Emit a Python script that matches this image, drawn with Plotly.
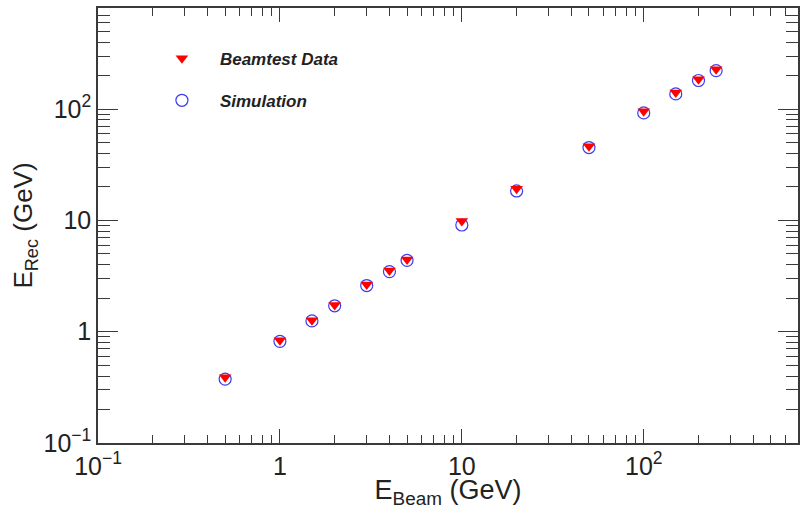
import plotly.graph_objects as go

e_beam = [0.5, 1, 1.5, 2, 3, 4, 5, 10, 20, 50, 100, 150, 200, 250]
e_rec_data = [0.39, 0.84, 1.27, 1.74, 2.65, 3.54, 4.45, 9.86, 19.3, 46.4, 96, 141, 186, 228]
e_rec_sim = [0.375, 0.82, 1.25, 1.71, 2.6, 3.47, 4.38, 9.1, 18.4, 45.2, 92.5, 137, 181, 222]

x_tickvals = [0.1, 1, 10, 100]
x_ticktext = ["10<sup>\u22121</sup>", "1", "10", "10<sup>2</sup>"]
y_tickvals = [0.1, 1, 10, 100]
y_ticktext = ["10<sup>\u22121</sup>", "1", "10", "10<sup>2</sup>"]

x_minor = [m * 10 ** k for k in (-1, 0, 1, 2) for m in range(2, 10)]
y_minor = [m * 10 ** k for k in (-1, 0, 1, 2) for m in range(2, 10)]

FONT = "Liberation Sans, Arial, sans-serif"
AX = "#3a3a3a"

fig = go.Figure()
fig.add_trace(go.Scatter(
    x=e_beam, y=e_rec_sim, mode="markers", name="<b><i>Simulation</i></b>",
    legendgroup="sim", legendrank=2,
    marker=dict(symbol="circle-open", size=12, color="#3b3bf0", line=dict(width=1.2, color="#3b3bf0")),
))
fig.add_trace(go.Scatter(
    x=e_beam, y=e_rec_data, mode="markers", name="<b><i>Beamtest Data</i></b>",
    legendgroup="data", legendrank=1,
    marker=dict(symbol="triangle-down", size=11, color="#ff0000", line=dict(width=0)),
))

fig.update_layout(
    width=806, height=509,
    margin=dict(l=98, r=6, t=8, b=66),
    paper_bgcolor="white", plot_bgcolor="white",
    font=dict(family=FONT, color="#222"),
    showlegend=True,
    legend=dict(
        x=0.0656, y=0.925, xanchor="left", yanchor="top",
        bgcolor="rgba(0,0,0,0)", borderwidth=0,
        font=dict(size=17, family=FONT, color="#222"),
        traceorder="grouped", tracegroupgap=17,
        itemwidth=66,
    ),
    xaxis=dict(
        type="log", range=[-1, 2.848],
        showgrid=False, zeroline=False,
        showline=True, linecolor=AX, linewidth=1.5, mirror="ticks",
        ticks="inside", ticklen=14, tickwidth=1.2, tickcolor=AX,
        tickmode="array", tickvals=x_tickvals, ticktext=x_ticktext,
        tickfont=dict(size=25, color="#222"),
        minor=dict(ticks="inside", ticklen=8, tickwidth=1, tickcolor=AX,
                   tickmode="array", tickvals=x_minor, showgrid=False),
        title=dict(text="E<sub>Beam</sub> (GeV)", font=dict(size=27, color="#222"), standoff=0),
    ),
    yaxis=dict(
        type="log", range=[-1, 2.909],
        showgrid=False, zeroline=False,
        showline=True, linecolor=AX, linewidth=1.5, mirror="ticks",
        ticks="inside", ticklen=20, tickwidth=1.2, tickcolor=AX,
        tickmode="array", tickvals=y_tickvals, ticktext=y_ticktext,
        tickfont=dict(size=25, color="#222"),
        minor=dict(ticks="inside", ticklen=12, tickwidth=1, tickcolor=AX,
                   tickmode="array", tickvals=y_minor, showgrid=False),
        title=dict(text="E<sub>Rec</sub> (GeV)", font=dict(size=26, color="#222"), standoff=3),
    ),
)

fig.write_html("out.html")
